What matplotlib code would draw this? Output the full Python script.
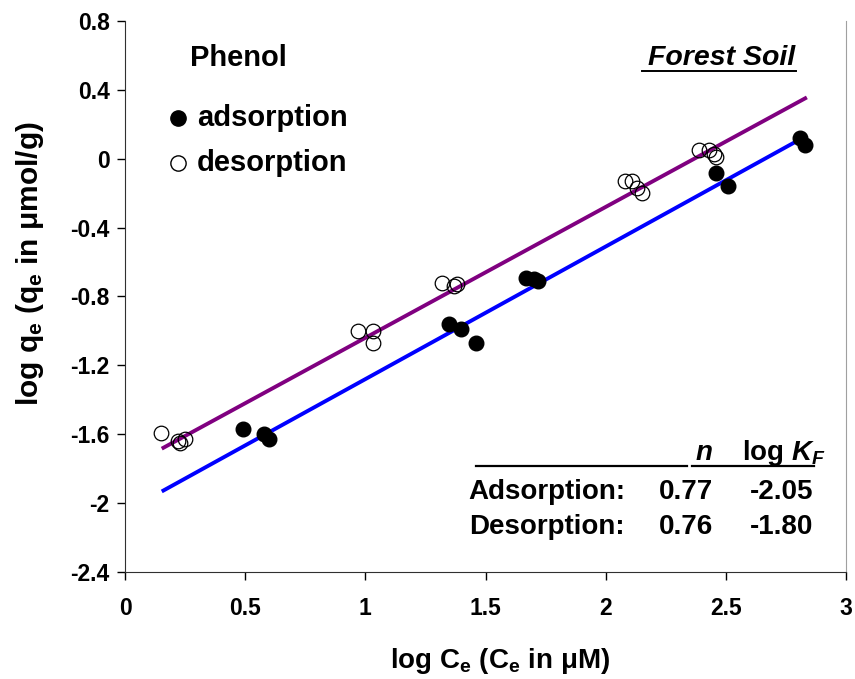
import numpy as np
import matplotlib.pyplot as plt

plt.rcParams['font.family'] = ['Liberation Sans', 'DejaVu Sans']
plt.rcParams['font.weight'] = 'bold'
plt.rcParams['mathtext.fontset'] = 'custom'
plt.rcParams['mathtext.rm'] = 'Liberation Sans:bold'
plt.rcParams['mathtext.it'] = 'Liberation Sans:italic:bold'
plt.rcParams['mathtext.bf'] = 'Liberation Sans:bold'

# adsorption data (filled circles)
ads_x = [0.49, 0.58, 0.60, 1.35, 1.40, 1.46, 1.67, 1.70, 1.72, 2.46, 2.51, 2.81, 2.83]
ads_y = [-1.57, -1.60, -1.63, -0.96, -0.99, -1.07, -0.69, -0.70, -0.71, -0.08, -0.16, 0.12, 0.08]

# desorption data (open circles)
des_x = [0.15, 0.22, 0.23, 0.25, 0.97, 1.03, 1.03, 1.32, 1.37, 1.38,
         2.08, 2.11, 2.13, 2.15, 2.39, 2.43, 2.45, 2.46]
des_y = [-1.59, -1.64, -1.65, -1.63, -1.00, -1.00, -1.07, -0.72, -0.74, -0.73,
         -0.13, -0.13, -0.17, -0.20, 0.05, 0.05, 0.03, 0.01]

# Freundlich fit parameters
fit_names = ['Adsorption:', 'Desorption:']
fit_n = [0.77, 0.76]
fit_logkf = [-2.05, -1.80]
fit_range = [0.16, 2.83]

x_ticks = [0, 0.5, 1, 1.5, 2, 2.5, 3]
y_ticks = [-2.4, -2, -1.6, -1.2, -0.8, -0.4, 0, 0.4, 0.8]

fig = plt.figure(figsize=(8.55, 6.79), dpi=100)
ax = fig.add_axes([0.1462, 0.1576, 0.8433, 0.8115])

xl = np.array(fit_range)
ax.plot(xl, fit_n[0] * xl + fit_logkf[0], color='#0000ff', lw=2.8, zorder=2)
ax.plot(xl, fit_n[1] * xl + fit_logkf[1], color='#800080', lw=2.8, zorder=2)

ax.plot(ads_x, ads_y, 'o', color='black', ms=10.5, zorder=3)
ax.plot(des_x, des_y, 'o', mfc='none', mec='black', mew=0.9, ms=10.5, zorder=3)

ax.set_xlim(0, 3)
ax.set_ylim(-2.4, 0.8)
ax.set_xticks(x_ticks)
ax.set_xticklabels([f'{t:g}' for t in x_ticks])
ax.set_yticks(y_ticks)
ax.set_yticklabels([f'{t:g}' for t in y_ticks])
ax.tick_params(direction='out', length=6, width=1, labelsize=16.5, pad=5)
ax.tick_params(axis='x', pad=12)

ax.spines['top'].set_visible(False)
ax.spines['right'].set_color('#a0a0a0')
ax.spines['left'].set_color('#303030')
ax.spines['bottom'].set_color('#303030')

ax.set_xlabel(r'log C$_\mathregular{e}$ (C$_\mathregular{e}$ in $\mathregular{\mu}$M)',
              fontsize=20, fontweight='bold')
ax.xaxis.set_label_coords(0.52, -0.135)
ax.set_ylabel(r'log q$_\mathregular{e}$ (q$_\mathregular{e}$ in $\mathregular{\mu}$mol/g)',
              fontsize=21.5, fontweight='bold')
ax.yaxis.set_label_coords(-0.109, 0.559)

# annotations
ax.text(0.27, 0.585, 'Phenol', fontsize=21, fontweight='bold', va='center')
ax.plot([0.22], [0.237], 'o', color='black', ms=11, clip_on=False)
ax.text(0.30, 0.237, 'adsorption', fontsize=21, fontweight='bold', va='center')
ax.plot([0.22], [-0.025], 'o', mfc='none', mec='black', mew=1, ms=11, clip_on=False)
ax.text(0.30, -0.025, 'desorption', fontsize=21, fontweight='bold', va='center')

ax.text(2.79, 0.585, 'Forest Soil', fontsize=20.5, fontweight='bold', style='italic',
        va='center', ha='right')
ax.plot([2.152, 2.79], [0.51, 0.51], color='black', lw=1.4)

# fit table
ax.text(2.41, -1.71, 'n', fontsize=20, fontweight='bold', style='italic', ha='center', va='center')
ax.text(2.74, -1.71, r'log $\mathit{K}_\mathit{F}$', fontsize=20, fontweight='bold',
        ha='center', va='center')
ax.plot([1.462, 2.339], [-1.784, -1.784], color='black', lw=1.6)
ax.plot([2.36, 2.867], [-1.784, -1.784], color='black', lw=1.6)
for i, name in enumerate(fit_names):
    yy = -1.935 - 0.203 * i
    ax.text(1.43, yy, name, fontsize=20, fontweight='bold', va='center')
    ax.text(2.335, yy, f'{fit_n[i]:.2f}', fontsize=20, fontweight='bold', va='center', ha='center')
    ax.text(2.73, yy, f'{fit_logkf[i]:.2f}', fontsize=20, fontweight='bold', va='center', ha='center')

fig.savefig('out.png', dpi=100)
